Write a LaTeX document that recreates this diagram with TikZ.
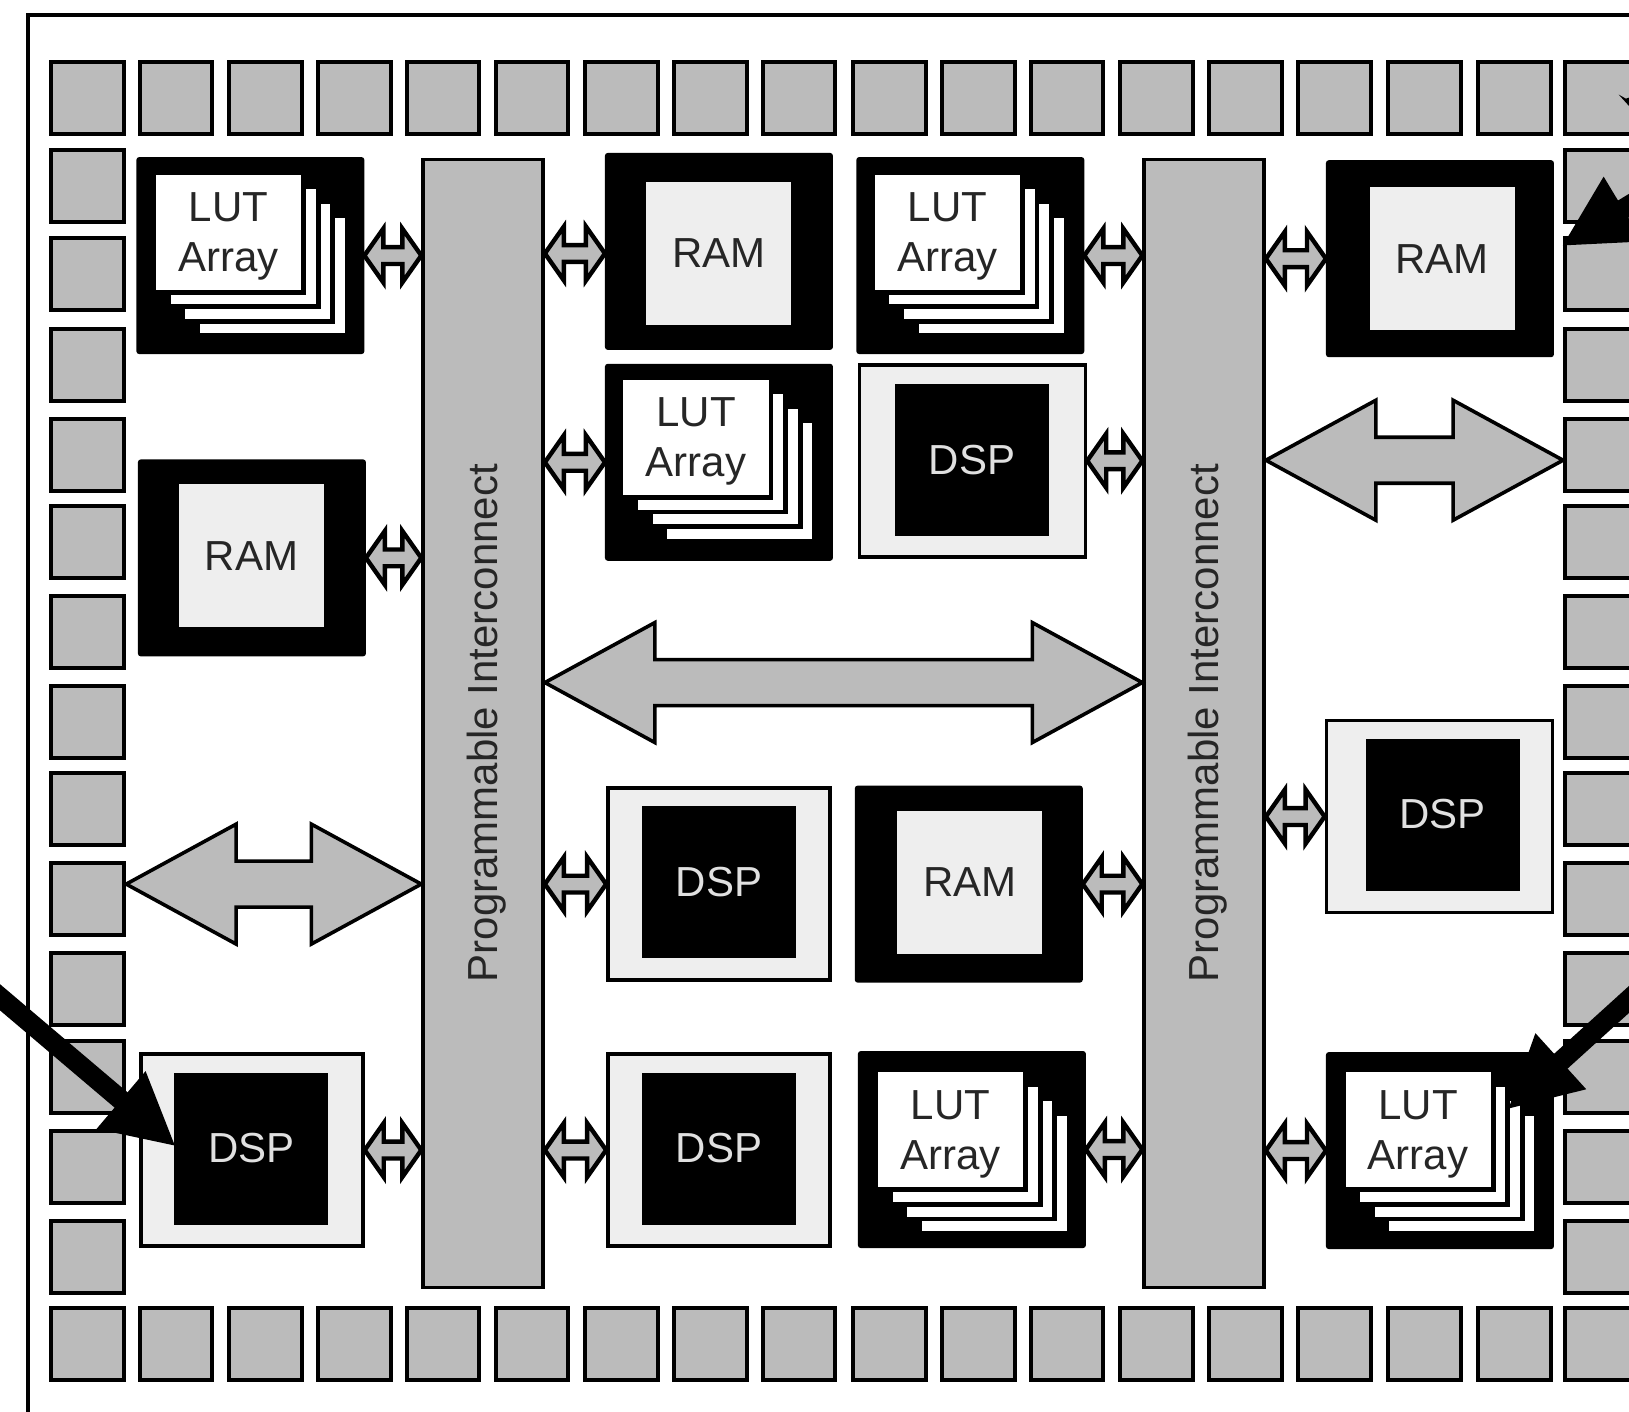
\documentclass[tikz,border=0pt]{standalone}
\usepackage{fontspec}
\setmainfont{Liberation Sans}
\usetikzlibrary{arrows.meta, calc}

\definecolor{padgray}{HTML}{BBBBBB}
\definecolor{lightfill}{HTML}{EEEEEE}

\begin{document}
\begin{tikzpicture}[
    x=0.5195pt, y=-0.5195pt,
    lbl/.style={font=\fontsize{21}{25}\selectfont, align=center, inner sep=0pt},
    pad/.style={
        rectangle, draw, line width=2pt, fill=padgray,
        minimum width=36.4pt, minimum height=36pt, inner sep=0pt
    },
    icbar/.style={
        rectangle, draw, line width=1.8pt, fill=padgray,
        minimum width=60pt, minimum height=564pt, inner sep=0pt
    },
    iclabel/.style={lbl, rotate=90, text=black!85},
    lutouter/.style={
        rectangle, draw, fill=black, line width=1pt, rounded corners=1pt,
        minimum width=113pt, minimum height=97.5pt, inner sep=0pt
    },
    sheet/.style={
        rectangle, draw, fill=white, line width=2.4pt, lbl, text=black!85,
        minimum width=75pt, minimum height=60pt
    },
    ramouter/.style={lutouter},
    raminner/.style={
        rectangle, fill=lightfill, lbl, text=black!85,
        minimum width=72.5pt, minimum height=71.5pt
    },
    dspouter/.style={
        rectangle, draw, line width=1.8pt, fill=lightfill,
        minimum height=96pt, inner sep=0pt
    },
    dspinner/.style={
        rectangle, draw, fill=black, line width=1pt, lbl, text=black!12,
        minimum width=76pt, minimum height=75pt
    },
    % double headed arrow: head length / head half width / shaft half width
    dblarrow/.style n args={4}{
        draw, line width=#4, fill=padgray, line join=miter,
        to path={
            let \p1=(\tikztostart), \p2=(\tikztotarget) in
            -- (\x1+#1,\y1-#2) -- (\x1+#1,\y1-#3) -- (\x2-#1,\y1-#3) -- (\x2-#1,\y1-#2)
            -- (\x2,\y1) -- (\x2-#1,\y1+#2) -- (\x2-#1,\y1+#3) -- (\x1+#1,\y1+#3)
            -- (\x1+#1,\y1+#2) -- cycle
        }
    },
    port/.style={dblarrow={9.5pt}{13.5pt}{4.2pt}{2.2pt}},
    bus/.style={dblarrow={55pt}{30pt}{11.5pt}{1.8pt}},
    callout/.style={
        -{Triangle[length=36pt, width=35pt]}, line width=10pt, black
    }
]
\useasboundingbox (0,0) rectangle (1568,1359);
\clip (0,0) rectangle (1568,1359);

% chip outline
\draw[line width=2pt] (27,14) rectangle (1700,1500);

% I/O pads
\foreach \px [count=\i] in {84.5,169.5,255.5,341.5,426.5,512,598.5,684,769,856,941.5,1027,1113,1198.5,1284.5,1371.5,1457.5,1541.5} {
    \node[pad] (padT\i) at (\px,94) {};
    \node[pad] (padB\i) at (\px,1294) {};
}
\foreach \py [count=\i] in {179.5,264,351.5,437.5,522,608,695,779,865,952,1037,1123,1210} {
    \node[pad] (padL\i) at (84.5,\py) {};
    \node[pad] (padR\i) at (1541.5,\py) {};
}

% interconnect
\node[icbar] (ic1) at (465,696.5) {};
\node[icbar] (ic2) at (1159,696.5) {};
\node[iclabel] (ic1-txt) at (468,696) {Programmable Interconnect};
\node[iclabel] (ic2-txt) at (1162,696) {Programmable Interconnect};

% LUT blocks
\foreach \nm/\cx/\cy/\fx/\fy in {lutA/241/246/220/223.5, lutB/692/445/670/421, lutC/934/246/912/223.5, lutD/935.5/1106.5/915/1087.5, lutE/1386/1107.5/1365/1087.5} {
    \node[lutouter] (\nm) at (\cx,\cy) {};
    \foreach \k in {3,2,1}
        \node[sheet] (\nm-s\k) at (\fx+\k*14,\fy+\k*14) {};
    \node[sheet, text depth=-3.5pt] (\nm-f) at (\fx,\fy) {LUT\\Array};
}

% RAM blocks
\foreach \nm/\cx/\cy/\fx/\fy in {ramA/242.5/537/242/535, ramB/692/242/692/244, ramC/1386/249/1388/249, ramD/932.5/851/933.5/849} {
    \node[ramouter] (\nm) at (\cx,\cy) {};
    \node[raminner] (\nm-i) at (\fx,\fy) {RAM};
}

% DSP blocks
\foreach \nm/\cx/\cy/\fx/\fy/\bw in {dspA/242.5/1107/242/1105.5/111pt, dspB/692/1107/692/1105.5/111pt, dspC/692/851/692/849/111pt, dspD/936/443.5/935.5/442.5/113pt, dspE/1385.5/786/1388.5/784/113pt} {
    \node[dspouter, minimum width=\bw] (\nm) at (\cx,\cy) {};
    \node[dspinner] (\nm-i) at (\fx,\fy) {DSP};
}

% small links
\foreach \nm in {lutA,ramA,dspA}
    \draw[port] (\nm.east) to (\nm.east -| ic1.west);
\foreach \nm in {lutB,dspC,dspB}
    \draw[port] (ic1.east |- \nm.west) to (\nm.west);
\draw[port] (ic1.east |- ramB-i) to (ramB.west |- ramB-i);
\foreach \nm in {lutC,dspD,ramD,lutD}
    \draw[port] (\nm.east) to (\nm.east -| ic2.west);
\foreach \nm in {ramC,dspE,lutE}
    \draw[port] (ic2.east |- \nm.west) to (\nm.west);

% wide buses
\coordinate (busM) at (0,657);
\coordinate (busR) at (0,443);
\coordinate (busL) at (0,851);
\draw[bus] (ic1.east |- busM) to (ic2.west |- busM);
\draw[bus] (ic2.east |- busR) to (padR4.west |- busR);
\draw[bus] (padL9.east |- busL) to (ic1.west |- busL);

% heavy pointers
\coordinate (tailA) at (-40,926);
\coordinate (tipA) at (169.4,1103.6);
\coordinate (tailB) at (1600,933);
\coordinate (tipB) at (1451,1068);
\coordinate (tailC) at (1674,134);
\coordinate (tipC) at (1503,237);
\draw[callout] (tailA) -- (tipA);
\draw[callout] (tailB) -- (tipB);
\draw[callout] (tailC) -- (tipC);
\fill (1558,91) -- (1565,95) -- (1568,94) -- (1568,102) -- cycle;

\end{tikzpicture}
\end{document}
